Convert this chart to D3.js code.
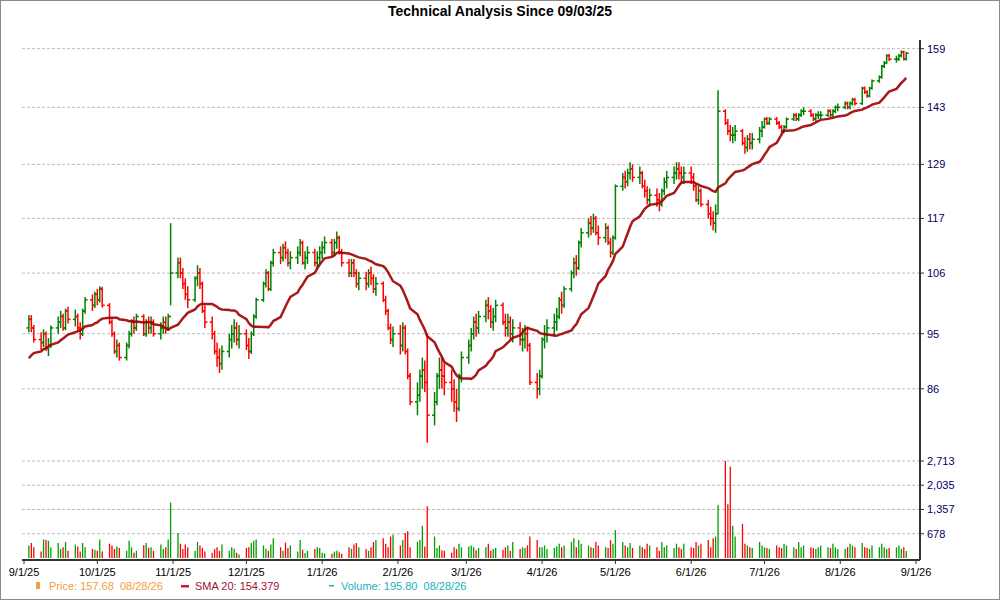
<!DOCTYPE html>
<html><head><meta charset="utf-8">
<script src="https://cdn.jsdelivr.net/npm/d3@7"></script>
<style>body{margin:0;background:#fff}svg{display:block}</style>
</head><body><svg id="chart" width="1000" height="600"></svg>
<script>
// daily closes, grouped by month (weekdays 09/03/25 .. 08/28/26)
const closes = [
  97.5,96,94,93.5,95,92.5,93,96,97,98,96,99,97.5,98,96,95,99,101,100,102,
  101,103,100,97,95,92,93,91,93,95,97,96,98,95,97,96,97,95,96,97,96,98,106,
  108,106,104,102,101,105,106,104,99,97,95,92,91,90,92,94,95,96,94,95,
  93,92,95,98,101,104,106,103,108,110,109,111,110,108,109,110,112,108,109,110,108,109,110,
  111,112,110,112,113,110,108,106,108,106,104,105,104,106,105,103,104,101,99,96,94,95,
  93,96,92,88,84,85,88,89,87,82,84,88,89,88,87,86,84,83,88,91,
  93,95,97,96,98,100,99,97,98,100,97,96,97,95,96,94,94,95,93,87,86,88,
  94,95,96,97,98,101,100,103,106,108,107,112,114,116,115,117,114,113,115,112,110,113,
  124,126,125,127,128,126,127,124,123,121,122,121,120,123,125,126,127,128,127,126,127,
  126,124,121,123,120,118,117,116,118,142,139,137,136,136,137,134,133,135,134,135,137,138,
  140,139,140,139,138,137,138,140,141,140,141,142,142,141,140,141,141,141,142,141,142,143,143,
  144,143,144,145,144,148,147,146,148,150,151,154,155,157,156,156,157,158,156,157.68
];
// closes before the window, feeding the first SMA values
const priorCloses = [86,87,88,87,89,88,90,89,91,90,92,91,90,92,93,92,94,95,96];
const volumes = [
  350,420,300,180,520,500,480,300,420,250,300,450,200,380,320,180,420,300,260,230,
  200,520,180,400,350,250,320,280,200,480,300,150,200,360,420,280,300,200,380,250,300,520,1550,
  700,400,250,380,300,200,450,350,280,180,150,250,300,200,380,200,300,260,150,100,
  280,300,420,480,520,350,260,200,380,550,300,200,430,280,350,180,500,230,140,200,250,300,280,
  150,130,120,180,200,160,120,300,260,380,420,300,250,200,300,450,500,550,400,300,600,650,
  350,500,700,750,300,450,500,900,320,1450,600,280,350,220,200,150,300,250,400,300,
  320,350,300,220,280,300,400,200,250,280,230,300,350,200,450,250,300,280,350,600,500,300,
  300,350,250,280,320,400,300,350,450,550,300,500,400,350,300,280,450,350,300,280,500,400,
  780,450,350,300,420,280,350,300,250,400,350,300,200,450,300,350,280,400,300,250,400,
  300,280,450,350,400,500,300,550,600,1480,2713,1500,2550,900,600,950,400,350,300,280,450,350,
  300,280,250,350,300,280,400,350,300,250,450,300,350,300,280,250,300,350,300,280,400,300,250,
  250,300,400,350,300,420,300,280,250,350,300,400,300,250,280,300,350,250,300,195.8
];
// typical daily range per month (Sep..Aug)
const monthRange = [3,3,4,3.5,3.5,5,4,4,4,4,2,2];
// days with wide ranges: [high, low]
const wideDays = {"2025-10-31":[116,100],"2026-02-13":[95,78],"2026-06-11":[120,114],"2026-06-12":[147.5,118]};
const priceTicks = [86,95,106,117,129,143,159];
const volTicks = [678,1357,2035,2713];
const xTicks = ["2025-09-01","2025-10-01","2025-11-01","2025-12-01","2026-01-01","2026-02-01","2026-03-01","2026-04-01","2026-05-01","2026-06-01","2026-07-01","2026-08-01","2026-09-01"];

const fmtKey = d3.timeFormat("%Y-%m-%d");
const parse = d3.timeParse("%Y-%m-%d");
const days = d3.timeDay.range(parse("2025-09-03"), parse("2026-08-29")).filter(d => d.getDay() > 0 && d.getDay() < 6);

const all = priorCloses.concat(closes);
const data = closes.map((c, i) => {
  const o = i === 0 ? priorCloses[priorCloses.length - 1] : closes[i - 1];
  const d = days[i];
  const mi = (d.getMonth() + 4) % 12;
  let ext = Math.max(0.4, (monthRange[mi] - Math.abs(c - o)) / 2);
  let hi = Math.max(o, c) + ext, lo = Math.min(o, c) - ext;
  const w = wideDays[fmtKey(d)];
  if (w) { hi = w[0]; lo = w[1]; }
  const win = all.slice(i, i + 20);
  return {date: d, o, c, hi, lo, v: volumes[i], sma: d3.mean(win)};
});

const svg = d3.select("#chart");
const L = 22, R = 920, pTop = 40, pBot = 450, vTop = 455, vBot = 560;

svg.append("rect").attr("x", 0.5).attr("y", 0.5).attr("width", 999).attr("height", 599)
  .attr("fill", "none").attr("stroke", "#888");
svg.append("text").attr("x", 500).attr("y", 16).attr("text-anchor", "middle")
  .attr("font-family", "Arial, Liberation Sans, sans-serif").attr("font-size", 14).attr("font-weight", "bold")
  .text("Technical Analysis Since 09/03/25");

const x = d3.scaleTime().domain([parse("2025-09-01"), parse("2026-09-01")]).range([24, 916]);
const y = d3.scaleLog().domain([77, 161.5]).range([pBot, pTop]);
const yv = d3.scaleLinear().domain([0, 2713]).range([vBot - 2, 461]);

// grid
const grid = svg.append("g").attr("stroke", "#bbb").attr("stroke-dasharray", "3,2");
priceTicks.forEach(t => grid.append("line").attr("x1", L).attr("x2", R).attr("y1", y(t)).attr("y2", y(t)));
volTicks.forEach(t => grid.append("line").attr("x1", L).attr("x2", R).attr("y1", yv(t)).attr("y2", yv(t)));

// volume
svg.append("g").selectAll("line").data(data).join("line")
  .attr("x1", d => x(d.date)).attr("x2", d => x(d.date))
  .attr("y1", yv(0)).attr("y2", d => yv(d.v))
  .attr("stroke", d => d.c >= d.o ? "#00a000" : "#ff0000").attr("stroke-width", 1.3);

// OHLC bars
const bars = svg.append("g").selectAll("g").data(data).join("g")
  .attr("stroke", d => d.c >= d.o ? "#008000" : "#ff0000").attr("stroke-width", 1.5);
bars.append("line").attr("x1", d => x(d.date)).attr("x2", d => x(d.date))
  .attr("y1", d => y(d.hi)).attr("y2", d => y(d.lo));
bars.append("line").attr("x1", d => x(d.date) - 2.5).attr("x2", d => x(d.date))
  .attr("y1", d => y(d.o)).attr("y2", d => y(d.o));
bars.append("line").attr("x1", d => x(d.date)).attr("x2", d => x(d.date) + 2.5)
  .attr("y1", d => y(d.c)).attr("y2", d => y(d.c));

// SMA 20
svg.append("path").datum(data).attr("fill", "none").attr("stroke", "#a00000")
  .attr("stroke-width", 2.5).attr("stroke-opacity", 0.9)
  .attr("d", d3.line().x(d => x(d.date)).y(d => y(d.sma)));

// axes lines
svg.append("line").attr("x1", R).attr("x2", R).attr("y1", pTop).attr("y2", vBot).attr("stroke", "#333").attr("stroke-width", 2);
svg.append("line").attr("x1", L).attr("x2", R).attr("y1", vBot).attr("y2", vBot).attr("stroke", "#333").attr("stroke-width", 2);

const font = "Arial, Liberation Sans, sans-serif";
priceTicks.forEach(t => {
  svg.append("line").attr("x1", R).attr("x2", R + 4).attr("y1", y(t)).attr("y2", y(t)).attr("stroke", "#333");
  svg.append("text").attr("x", R + 7).attr("y", y(t) + 4).attr("fill", "#000060")
    .attr("font-family", font).attr("font-size", 11).text(t);
});
volTicks.forEach(t => {
  svg.append("line").attr("x1", R).attr("x2", R + 4).attr("y1", yv(t)).attr("y2", yv(t)).attr("stroke", "#333");
  svg.append("text").attr("x", R + 7).attr("y", yv(t) + 4).attr("fill", "#000060")
    .attr("font-family", font).attr("font-size", 11).text(d3.format(",")(t));
});
xTicks.forEach(s => {
  const d = parse(s), xx = x(d);
  svg.append("line").attr("x1", xx).attr("x2", xx).attr("y1", vBot).attr("y2", vBot + 4).attr("stroke", "#333");
  svg.append("text").attr("x", xx).attr("y", 576).attr("text-anchor", "middle")
    .attr("font-family", font).attr("font-size", 11).text(d3.timeFormat("%-m/%-d/%y")(d));
});

// legend
const last = data[data.length - 1];
const lg = svg.append("g").attr("font-family", font).attr("font-size", 11);
lg.append("rect").attr("x", 36).attr("y", 582).attr("width", 4).attr("height", 7).attr("fill", "#f0a040");
lg.append("text").attr("x", 49).attr("y", 590).attr("fill", "#f0a040").attr("xml:space", "preserve")
  .text(`Price: ${last.c.toFixed(2)}  ${d3.timeFormat("%m/%d/%y")(last.date)}`);
lg.append("rect").attr("x", 181).attr("y", 585).attr("width", 8).attr("height", 2.5).attr("fill", "#c02030");
lg.append("text").attr("x", 195).attr("y", 590).attr("fill", "#a01030").text("SMA 20: 154.379");
lg.append("rect").attr("x", 329).attr("y", 585).attr("width", 5).attr("height", 1.5).attr("fill", "#20b0c0");
lg.append("text").attr("x", 341).attr("y", 590).attr("fill", "#20b0c0").attr("xml:space", "preserve")
  .text(`Volume: ${last.v.toFixed(2)}  ${d3.timeFormat("%m/%d/%y")(last.date)}`);
</script></body></html>
